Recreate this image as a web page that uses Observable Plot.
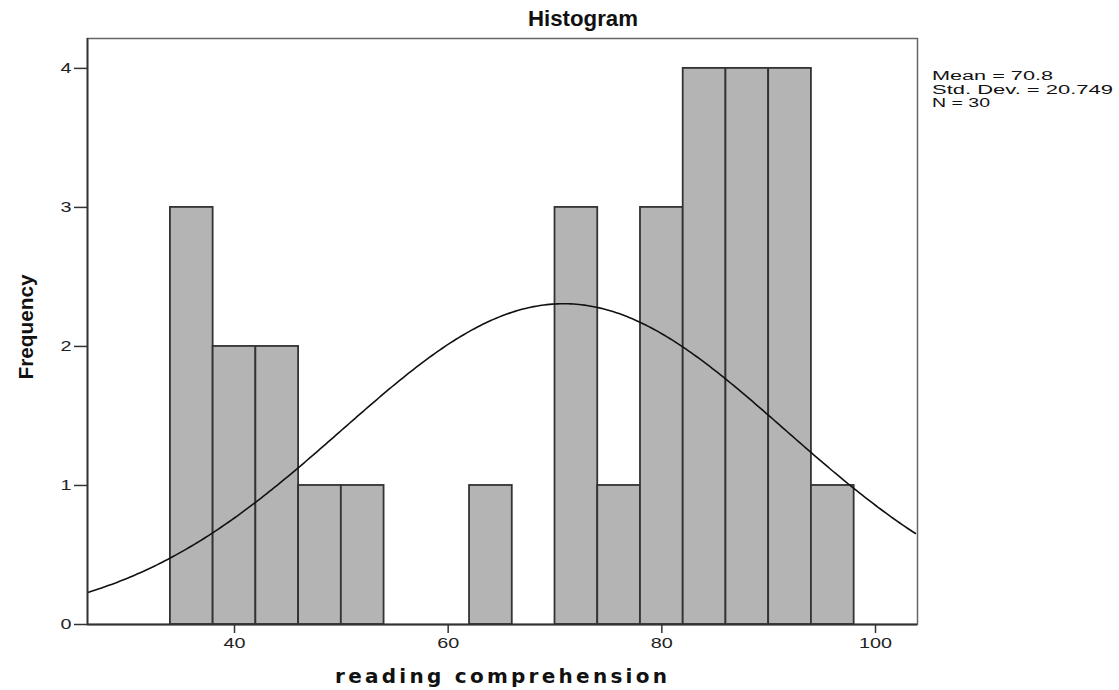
<!DOCTYPE html>
<html><head><meta charset="utf-8">
<script src="https://cdn.jsdelivr.net/npm/d3@7"></script>
<script src="https://cdn.jsdelivr.net/npm/@observablehq/plot@0.6"></script>
<style>body{margin:0;background:#fff}</style>
</head><body><div id="chart"></div>
<script>
const binStarts = [34,38,42,46,50,54,58,62,66,70,74,78,82,86,90,94];
const counts    = [3, 2, 2, 1, 1, 0, 0, 1, 0, 3, 1, 3, 4, 4, 4, 1];
const binWidth = 4;
const mean = 70.8, sd = 20.749, n = 30;
const xTicks = [40,60,80,100];
const yTicks = [0,1,2,3,4];
const statLines = ["Mean = 70.8","Std. Dev. = 20.749","N = 30"];

const bins = binStarts.map((s,i)=>({x1:s,x2:s+binWidth,count:counts[i]})).filter(d=>d.count>0);
const xDomain=[26.24,103.93];
const curve = d3.range(xDomain[0], xDomain[1]+0.001, 0.25).map(x=>({x, y: n*binWidth*Math.exp(-0.5*((x-mean)/sd)**2)/(sd*Math.sqrt(2*Math.PI))}));

const W=1119,H=690;
const plot = Plot.plot({
  width:W,height:H,
  marginLeft:87,marginRight:202,marginTop:38,marginBottom:66,
  x:{domain:xDomain},
  y:{domain:[0,4.215]},
  style:{fontFamily:"Liberation Sans, Arial, sans-serif",fontSize:"15px",color:"#222",background:"#fff"},
  marks:[
    Plot.frame({stroke:"#666",strokeWidth:1.5}),
    Plot.rectY(bins,{x1:"x1",x2:"x2",y:"count",fill:"#b4b4b4",stroke:"#333",strokeWidth:1.8}),
    Plot.line(curve,{x:"x",y:"y",stroke:"#111",strokeWidth:1.6,clip:true}),
    Plot.ruleX([xDomain[0]],{stroke:"#333",strokeWidth:1.8}),
    Plot.ruleY([0],{stroke:"#333",strokeWidth:1.8}),
    Plot.axisX({ticks:xTicks,tickSize:9,tickPadding:4,label:null,stroke:"#333",strokeWidth:1.5,fontSize:15}),
    Plot.axisY({ticks:yTicks,tickSize:13,tickPadding:3,label:null,stroke:"#333",strokeWidth:1.5,fontSize:15,tickFormat:d3.format("d")})
  ]
});
document.getElementById("chart").appendChild(plot);
const svg=d3.select(plot);
svg.selectAll("text").style("font-size","15px").style("fill","#222")
  .each(function(){const t=this.textContent; d3.select(this).attr("textLength",t.length*11).attr("lengthAdjust","spacingAndGlyphs");});
svg.append("text").attr("x",583).attr("y",26).attr("text-anchor","middle")
  .attr("font-family","Liberation Sans, Arial").attr("font-weight","bold").attr("font-size",22)
  .attr("textLength",110).attr("lengthAdjust","spacingAndGlyphs").attr("fill","#111").text("Histogram");
svg.append("text").attr("x",501).attr("y",683).attr("text-anchor","middle")
  .attr("font-family","DejaVu Sans, Verdana").attr("font-weight","bold").attr("font-size",20)
  .attr("textLength",332).attr("lengthAdjust","spacing").attr("fill","#111").text("reading comprehension");
svg.append("text").attr("transform","translate(33,327) rotate(-90)").attr("text-anchor","middle")
  .attr("font-family","Liberation Sans, Arial").attr("font-weight","bold").attr("font-size",21)
  .attr("textLength",105).attr("lengthAdjust","spacingAndGlyphs").attr("fill","#111").text("Frequency");
const statLen=[121,181,58];
const st=svg.append("text").attr("text-anchor","start").attr("font-family","Liberation Sans, Arial").attr("font-size",12).attr("fill","#111");
statLines.forEach((t,i)=>st.append("tspan").attr("x",932).attr("y",80+i*13.5)
  .attr("textLength",statLen[i]).attr("lengthAdjust","spacingAndGlyphs").text(t));
</script></body></html>
